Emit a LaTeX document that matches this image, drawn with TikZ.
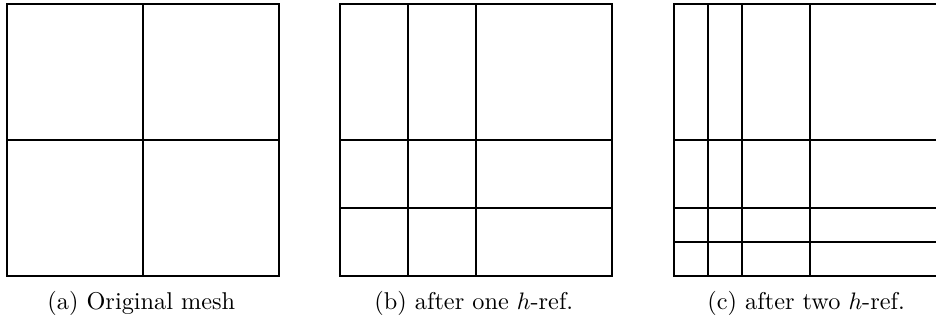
\documentclass[tikz,border=0pt]{standalone}
\begin{document}
\begin{tikzpicture}[x=0.42pt,y=-0.42pt,
  meshline/.style={line width=0.85pt, line cap=rect},
  captext/.style={anchor=base west, inner sep=0pt, font=\fontsize{10.2}{12}\selectfont}]
\useasboundingbox (0,0) rectangle (936,322);
\clip (0,0) rectangle (936,322);
% (a)
\draw[meshline] (7,4.3) rectangle (279,276);
\draw[meshline] (143,4.3) -- (143,276);
\draw[meshline] (7,140) -- (279,140);
% (b)
\draw[meshline] (340,4.3) rectangle (612,276);
\draw[meshline] (408,4.3) -- (408,276);
\draw[meshline] (476,4.3) -- (476,276);
\draw[meshline] (340,140) -- (612,140);
\draw[meshline] (340,208) -- (612,208);
% (c)
\draw[meshline] (674,4.3) rectangle (946,276);
\draw[meshline] (708,4.3) -- (708,276);
\draw[meshline] (742,4.3) -- (742,276);
\draw[meshline] (810,4.3) -- (810,276);
\draw[meshline] (674,140) -- (946,140);
\draw[meshline] (674,208) -- (946,208);
\draw[meshline] (674,242) -- (946,242);
% captions
\node[captext] (ca) at (47,310) {(a) Original mesh};
\node[captext] (cb) at (374,310) {(b) after one $h$-ref.};
\node[captext] (cc) at (707,310) {(c) after two $h$-ref.};
\end{tikzpicture}
\end{document}
